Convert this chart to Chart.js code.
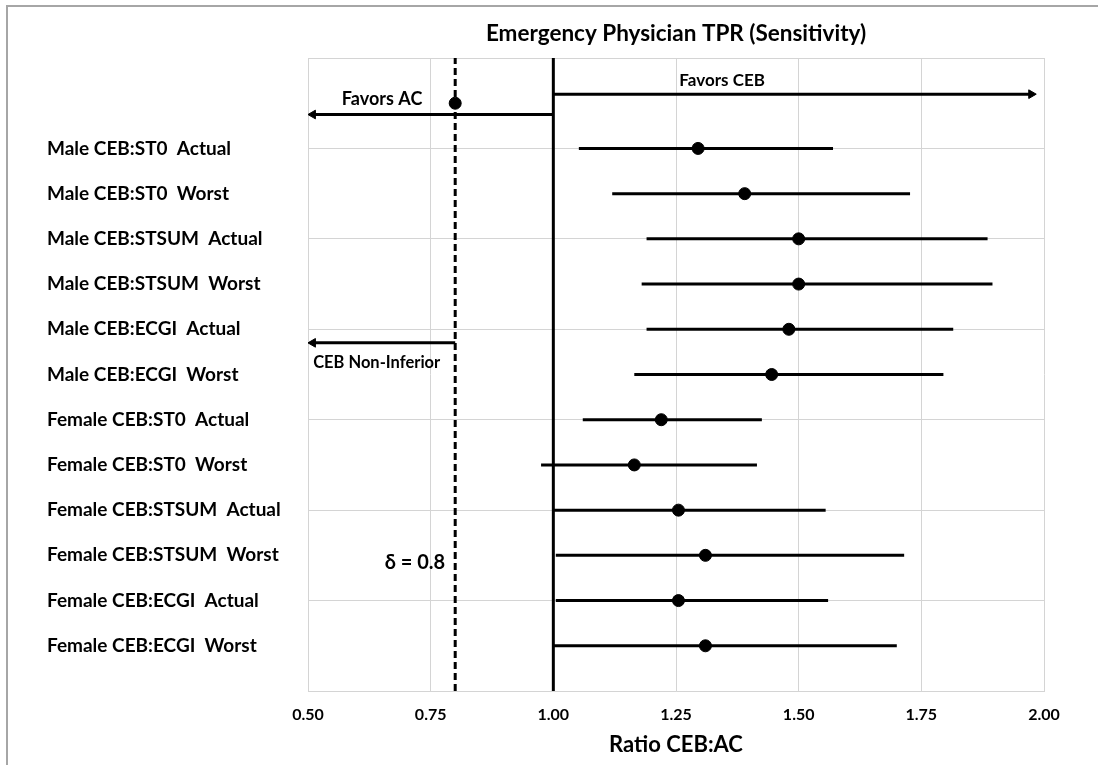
<!DOCTYPE html>
<html>
<head>
<meta charset="utf-8">
<script src="https://cdn.jsdelivr.net/npm/chart.js@4.4.1/dist/chart.umd.min.js"></script>
<style>
  html, body { margin: 0; padding: 0; background: #fff; }
  #wrap { position: relative; width: 1098px; height: 765px; }
</style>
</head>
<body>
<div id="wrap"><canvas id="forest"></canvas></div>
<script>
/* ---------- data (rows listed top to bottom) ---------- */
const rowLabels = [
  "Male CEB:ST0  Actual",
  "Male CEB:ST0  Worst",
  "Male CEB:STSUM  Actual",
  "Male CEB:STSUM  Worst",
  "Male CEB:ECGI  Actual",
  "Male CEB:ECGI  Worst",
  "Female CEB:ST0  Actual",
  "Female CEB:ST0  Worst",
  "Female CEB:STSUM  Actual",
  "Female CEB:STSUM  Worst",
  "Female CEB:ECGI  Actual",
  "Female CEB:ECGI  Worst"
];
const ratioEst = [1.295, 1.39, 1.50, 1.50, 1.48, 1.445, 1.22, 1.165, 1.255, 1.31, 1.255, 1.31];
const ciLow    = [1.052, 1.12, 1.19, 1.18, 1.19, 1.165, 1.06, 0.975, 1.00, 1.005, 1.005, 1.00];
const ciHigh   = [1.570, 1.727, 1.885, 1.895, 1.815, 1.795, 1.425, 1.415, 1.555, 1.715, 1.56, 1.70];

const xTicks = [0.50, 0.75, 1.00, 1.25, 1.50, 1.75, 2.00];

// reference lines
const noEffect = 1.0;
const delta = 0.8;

// arrows: favors CEB, favors AC, CEB non-inferior
const arrowFrom = [1.0, 1.0, 0.8];
const arrowTo   = [1.974, 0.510, 0.510];
const arrowY    = [13.2, 12.75, 7.7];
const deltaMarkY = 13.0;

// text notes
const noteText = ["Favors CEB", "Favors AC", "CEB Non-Inferior", "\u03b4 = 0.8"];
const noteX    = [1.344, 0.651, 0.640, 0.718];
const noteY    = [13.5, 13.1, 7.26, 2.85];

/* ---------- helpers ---------- */
const FONT = "Lato, 'Open Sans', sans-serif";
const GRID = "#d4d4d4";
const nRows = rowLabels.length;
const rowY = i => nRows - i;   // top row sits at y = 12

/* ---------- datasets ---------- */
const datasets = [];

datasets.push({
  type: "scatter",
  data: ratioEst.map((v, i) => ({ x: v, y: rowY(i) })),
  backgroundColor: "#000",
  borderColor: "#000",
  pointRadius: 6
});

datasets.push({
  type: "scatter",
  data: [{ x: delta, y: deltaMarkY }],
  backgroundColor: "#000",
  borderColor: "#000",
  pointRadius: 6
});

ciLow.forEach((lo, i) => {
  datasets.push({
    type: "line",
    data: [{ x: lo, y: rowY(i) }, { x: ciHigh[i], y: rowY(i) }],
    borderColor: "#000",
    borderWidth: 3,
    pointRadius: 0
  });
});

arrowFrom.forEach((a, i) => {
  const right = arrowTo[i] > a;
  datasets.push({
    type: "line",
    data: [{ x: a, y: arrowY[i] }, { x: arrowTo[i], y: arrowY[i] }],
    borderColor: "#000",
    backgroundColor: "#000",
    borderWidth: 3,
    pointStyle: "triangle",
    pointRadius: [0, 5],
    pointBorderWidth: 1,
    pointRotation: right ? 90 : -90
  });
});

datasets.push({
  type: "line",
  data: [{ x: noEffect, y: 0 }, { x: noEffect, y: 14 }],
  borderColor: "#000",
  borderWidth: 3,
  pointRadius: 0
});

datasets.push({
  type: "line",
  data: [{ x: delta, y: 0 }, { x: delta, y: 14 }],
  borderColor: "#000",
  borderWidth: 3,
  borderDash: [7, 4],
  pointRadius: 0
});

/* ---------- plugin: outer frame + text notes ---------- */
const notesPlugin = {
  id: "notes",
  beforeDraw(chart) {
    const ctx = chart.ctx;
    ctx.save();
    ctx.strokeStyle = "#a6a6a6";
    ctx.lineWidth = 2;
    ctx.beginPath();
    ctx.moveTo(7, chart.height);
    ctx.lineTo(7, 6);
    ctx.lineTo(chart.width, 6);
    ctx.stroke();
    ctx.restore();
  },
  afterDatasetsDraw(chart) {
    const { ctx, scales: { x, y } } = chart;
    const sizes = [17, 18, 16.5, 20];
    ctx.save();
    ctx.fillStyle = "#000";
    ctx.textAlign = "center";
    ctx.textBaseline = "middle";
    noteText.forEach((t, i) => {
      ctx.font = "bold " + sizes[i] + "px " + FONT;
      ctx.fillText(t, x.getPixelForValue(noteX[i]), y.getPixelForValue(noteY[i]));
    });
    ctx.restore();
  }
};

/* ---------- chart ---------- */
new Chart(document.getElementById("forest"), {
  type: "scatter",
  data: { datasets },
  options: {
    responsive: true,
    maintainAspectRatio: false,
    animation: false,
    layout: { padding: { left: 47, right: 54, top: 0, bottom: 0 } },
    plugins: {
      legend: { display: false },
      tooltip: { enabled: false },
      title: {
        display: true,
        fullSize: false,
        text: "Emergency Physician TPR (Sensitivity)",
        color: "#000",
        font: { family: FONT, size: 22.5, weight: "bold" },
        padding: { top: 20, bottom: 11 }
      }
    },
    scales: {
      x: {
        type: "linear",
        min: 0.5,
        max: 2.0,
        afterBuildTicks: s => { s.ticks = xTicks.map(v => ({ value: v })); },
        afterFit: s => { s.height = 74; },
        grid: { color: GRID, drawTicks: false },
        border: { color: GRID },
        ticks: {
          color: "#000",
          padding: 14,
          font: { family: FONT, size: 16, weight: "bold" },
          callback: v => Number(v).toFixed(2)
        },
        title: {
          display: true,
          text: "Ratio CEB:AC",
          color: "#000",
          font: { family: FONT, size: 22, weight: "bold" },
          padding: { top: 0, bottom: 7 }
        }
      },
      y: {
        type: "linear",
        min: 0,
        max: 14,
        afterFit: s => { s.width = 261; },
        grid: {
          drawTicks: false,
          color: c => (c.tick && c.tick.value % 2 === 0) ? GRID : "rgba(0,0,0,0)"
        },
        border: { color: GRID },
        ticks: {
          stepSize: 1,
          autoSkip: false,
          crossAlign: "far",
          padding: 0,
          color: "#000",
          font: { family: FONT, size: 19, weight: "bold" },
          callback: v => (v >= 1 && v <= nRows) ? rowLabels[nRows - v] : ""
        }
      }
    }
  },
  plugins: [notesPlugin]
});
</script>
</body>
</html>
